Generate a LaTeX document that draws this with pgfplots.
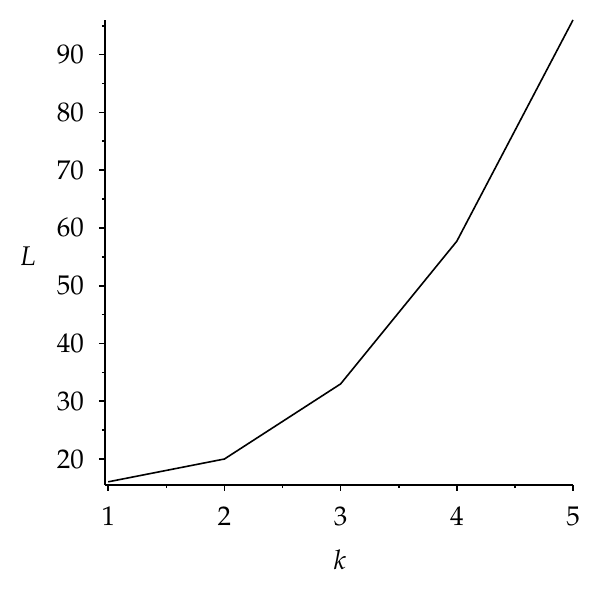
\documentclass[border=0pt]{standalone}
\usepackage[T1]{fontenc}
\usepackage{mathpazo}
\usepackage{pgfplots}
\pgfplotsset{compat=1.18}
\begin{document}
\begin{tikzpicture}
\begin{axis}[
  at={(0,0)}, anchor=south west,
  scale only axis,
  width=234pt, height=232.5pt,
  xmin=0.972, xmax=5, ymin=15.5, ymax=96,
  axis x line*=bottom, axis y line*=left,
  axis line style={-, line width=0.9pt},
  xtick={1,2,3,4,5},
  ytick={20,30,40,50,60,70,80,90},
  minor xtick={1.5,2.5,3.5,4.5},
  minor ytick={25,35,45,55,65,75,85,95},
  tick align=outside,
  major tick length=3pt, minor tick length=1.6pt,
  tick style={line width=0.8pt, black},
  tick label style={font=\fontsize{13.5}{16}\selectfont},
  xticklabel style={yshift=-4.5pt},
  yticklabel style={xshift=-4pt},
  xlabel={$k$}, ylabel={$L$},
  label style={font=\fontsize{13.5}{16}\selectfont},
  xlabel style={at={(rel axis cs:0.502,-0.16)}, anchor=center},
  ylabel style={at={(rel axis cs:-0.165,0.492)}, anchor=center, rotate=-90},
  clip=false,
]
\addplot[black, line width=0.8pt] coordinates {(1,16.05) (2,20) (3,33) (4,57.7) (5,96)};
\end{axis}
\pgfresetboundingbox
\path[use as bounding box] (-52.5pt,-54pt) rectangle (247.5pt,242.5pt);
\end{tikzpicture}
\end{document}
